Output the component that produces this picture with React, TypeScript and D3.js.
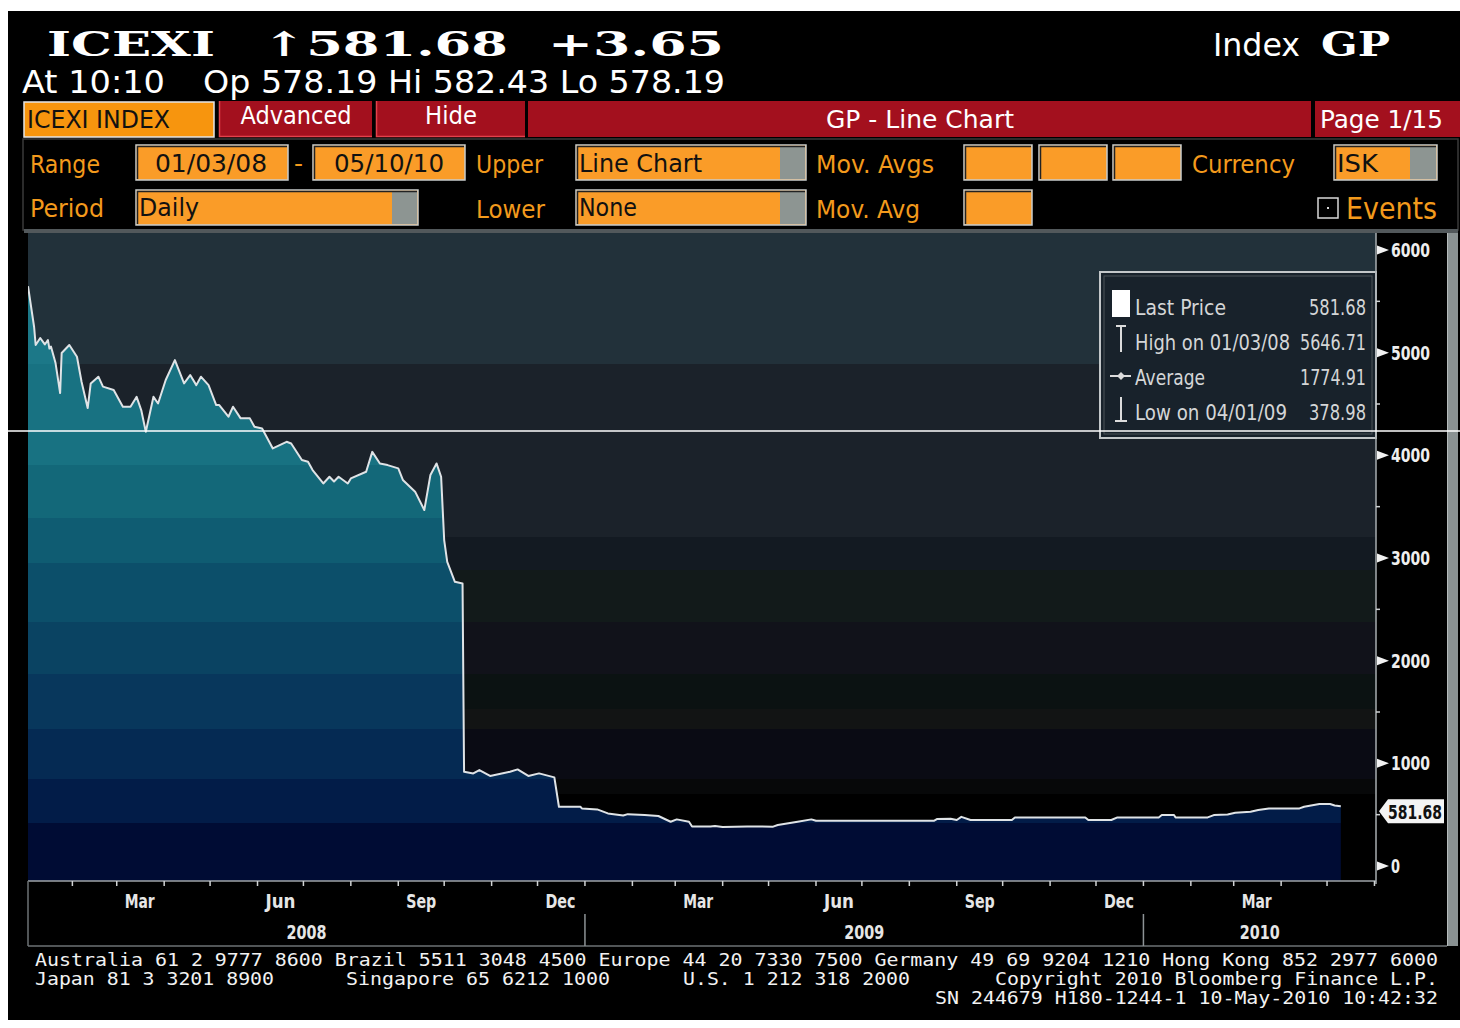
import React from "react";
import * as d3 from "d3";

// ---------- DATA ----------
const DATES: string[] = [
  "2008-01-03","2008-01-07","2008-01-08","2008-01-11","2008-01-14","2008-01-16","2008-01-17","2008-01-18",
  "2008-01-21","2008-01-24","2008-01-25","2008-01-30","2008-02-04","2008-02-07","2008-02-11","2008-02-13",
  "2008-02-18","2008-02-21","2008-02-28","2008-03-05","2008-03-10","2008-03-14","2008-03-17","2008-03-20",
  "2008-03-25","2008-03-28","2008-04-02","2008-04-08","2008-04-14","2008-04-18","2008-04-22","2008-04-25",
  "2008-04-30","2008-05-05","2008-05-07","2008-05-13","2008-05-16","2008-05-21","2008-05-27","2008-05-30",
  "2008-06-04","2008-06-11","2008-06-20","2008-06-23","2008-06-30","2008-07-04","2008-07-07","2008-07-14",
  "2008-07-18","2008-07-21","2008-07-24","2008-07-30","2008-08-01","2008-08-11","2008-08-15","2008-08-20",
  "2008-08-25","2008-09-01","2008-09-04","2008-09-12","2008-09-18","2008-09-22","2008-09-26","2008-09-29",
  "2008-10-01","2008-10-03","2008-10-08","2008-10-13","2008-10-14","2008-10-20","2008-10-24","2008-10-31",
  "2008-11-13","2008-11-18","2008-11-25","2008-12-02","2008-12-12","2008-12-15","2008-12-29","2008-12-30",
  "2009-01-09","2009-01-16","2009-01-26","2009-01-29","2009-02-09","2009-02-18","2009-02-26","2009-03-02",
  "2009-03-10","2009-03-12","2009-03-24","2009-03-27","2009-04-01","2009-04-17","2009-05-04","2009-05-07",
  "2009-05-20","2009-05-29","2009-06-01","2009-08-17","2009-08-19","2009-08-28","2009-09-01","2009-09-04",
  "2009-09-10","2009-10-07","2009-10-09","2009-11-24","2009-11-26","2009-12-11","2009-12-15","2010-01-11",
  "2010-01-13","2010-01-21","2010-01-22","2010-02-12","2010-02-16","2010-02-25","2010-03-02","2010-03-12",
  "2010-03-17","2010-03-24","2010-04-13","2010-04-16","2010-04-26","2010-05-03","2010-05-06","2010-05-10",
];
const VALUES: number[] = [
  5647,5250,5075,5143,5080,5123,5040,5060,
  4899,4607,4997,5075,4960,4717,4461,4700,
  4766,4669,4636,4473,4473,4570,4441,4230,
  4570,4505,4734,4928,4701,4782,4684,4766,
  4684,4490,4490,4376,4473,4360,4360,4278,
  4262,4067,4132,4115,3954,3938,3857,3726,
  3791,3745,3791,3726,3775,3840,4034,3921,
  3905,3873,3760,3646,3467,3808,3921,3791,
  3175,2963,2768,2752,918,902,935,877,
  918,941,877,902,863,577,577,561,
  551,512,492,505,497,487,431,454,
  431,385,385,390,379,385,383,399,
  431,454,440,440,457,460,448,479,
  448,448,473,473,448,448,473,473,
  496,496,473,473,496,502,518,528,
  545,561,561,577,604,604,590,582,
];
const Y_TICKS: number[] = [0, 1000, 2000, 3000, 4000, 5000, 6000];
const MONTH_LABELS: string[] = ["Mar", "Jun", "Sep", "Dec"];
const YEAR_LABELS: string[] = ["2008", "2009", "2010"];
const LEGEND_LABELS: string[] = ["Last Price", "High on 01/03/08", "Average", "Low on 04/01/09"];
const LEGEND_VALUES: string[] = ["581.68", "5646.71", "1774.91", "378.98"];
const LAST_PRICE = 581.68;
const FOOTER_1 = "Australia 61 2 9777 8600 Brazil 5511 3048 4500 Europe 44 20 7330 7500 Germany 49 69 9204 1210 Hong Kong 852 2977 6000";

// ---------- STYLE ----------
const COND = "'DejaVu Sans Condensed', 'Liberation Sans Narrow', 'Roboto Condensed', 'DejaVu Sans', sans-serif";
const MONO = "'DejaVu Sans Mono', 'Liberation Mono', monospace";
const SERIF = "'DejaVu Serif', 'Liberation Serif', serif";
const ORANGE = "#fa9c28";
const AMBER = "#f39a1c";
const RED = "#a3101e";
const PL = 28, PR = 1376, PT = 233, PB = 881;

const BG_BANDS: [number, string][] = [
  [233, "#22313a"], [364, "#1b222a"], [537, "#131a22"], [570, "#121a1a"], [622, "#11121a"],
  [674, "#0b1212"], [709, "#121414"], [729, "#0a0b14"], [779, "#070809"], [794, "#000000"],
];
const FILL_BANDS: [number, string][] = [
  [233, "#1c7888"], [364, "#187282"], [465, "#136879"], [518, "#0f5c72"], [563, "#0c4f6a"],
  [622, "#0a4362"], [674, "#08375c"], [729, "#052a53"], [779, "#021c48"], [823, "#000c34"],
];

function T(p: any) {
  const { x, y, s = 24, c = "#fff", len, anchor = "start", w = "normal", f = COND, children } = p;
  return (
    <text x={x} y={y} fontSize={s} fill={c} fontFamily={f} fontWeight={w} textAnchor={anchor}
      textLength={len} lengthAdjust="spacingAndGlyphs">{children}</text>
  );
}

function OBox({ x, y, w, h, gray }: any) {
  return (
    <g>
      <rect x={x} y={y} width={w} height={h} fill={ORANGE} stroke="#c9cdcd" strokeWidth={1.5} />
      {gray ? <rect x={x + w - gray} y={y + 1} width={gray - 1} height={h - 2} fill="#8d9592" /> : null}
      <path d={`M${x + 1.5},${y + h - 1} V${y + 1.5} H${x + w - 1}`} stroke="#222" strokeWidth={1.5} fill="none" />
    </g>
  );
}

export default function App() {
  const parse = d3.timeParse("%Y-%m-%d");
  const data = DATES.map((d, i) => ({ date: parse(d) as Date, value: VALUES[i] }));

  const x = d3.scaleTime().domain([new Date(2008, 0, 3), new Date(2010, 5, 2)]).range([PL, PR]);
  const y = d3.scaleLinear().domain([0, 6000]).range([866, 250]);

  const line = d3.line<any>().x((d) => x(d.date)).y((d) => y(d.value));
  const area = d3.area<any>().x((d) => x(d.date)).y0(PB).y1((d) => y(d.value));

  const monthStarts = d3.timeMonth.range(new Date(2008, 1, 1), new Date(2010, 5, 2));
  const quarterMids = d3.timeMonth
    .range(new Date(2008, 0, 1), new Date(2010, 5, 1))
    .filter((m) => [2, 5, 8, 11].includes(m.getMonth()))
    .map((m) => ({ d: new Date(m.getFullYear(), m.getMonth(), 16), label: MONTH_LABELS[[2, 5, 8, 11].indexOf(m.getMonth())] }));
  const yearStarts = [new Date(2009, 0, 1), new Date(2010, 0, 1)];
  const yearBounds = [PL, x(yearStarts[0]), x(yearStarts[1]), PR];

  const gradStops = (bands: [number, string][]) => {
    const out: any[] = [];
    bands.forEach(([yy, col], i) => {
      const y0 = (yy - PT) / (PB - PT);
      const y1 = i < bands.length - 1 ? (bands[i + 1][0] - PT) / (PB - PT) : 1;
      out.push(<stop key={i + "a"} offset={y0} stopColor={col} />);
      out.push(<stop key={i + "b"} offset={y1} stopColor={col} />);
    });
    return out;
  };

  const lastY = y(LAST_PRICE);
  const tagC = lastY + 5;

  return (
    <svg width={1460} height={1028} style={{ position: "absolute", left: 0, top: 0, display: "block" }}>
      <defs>
        <linearGradient id="bgGrad" gradientUnits="userSpaceOnUse" x1={0} y1={PT} x2={0} y2={PB}>
          {gradStops(BG_BANDS)}
        </linearGradient>
        <linearGradient id="fillGrad" gradientUnits="userSpaceOnUse" x1={0} y1={PT} x2={0} y2={PB}>
          {gradStops(FILL_BANDS)}
        </linearGradient>
        <clipPath id="plotClip">
          <rect x={PL} y={PT} width={PR - PL} height={PB - PT} />
        </clipPath>
      </defs>
      <rect x={0} y={0} width={1460} height={1028} fill="#fff" />
      <rect x={8} y={11} width={1452} height={1009} fill="#000" />

      {/* Header */}
      <T x={47} y={56} s={34} f={SERIF} w="bold" len={168}>ICEXI</T>
      <T x={262} y={56} s={34} f={SERIF} w="bold" len={246}>↑581.68</T>
      <T x={548} y={56} s={34} f={SERIF} w="bold" len={176}>+3.65</T>
      <T x={22} y={93} s={32} len={143}>At 10:10</T>
      <T x={203} y={93} s={32} len={522}>Op 578.19 Hi 582.43 Lo 578.19</T>
      <T x={1213} y={56} s={32} len={87}>Index</T>
      <T x={1321} y={56} s={34} f={SERIF} w="bold" len={69}>GP</T>

      {/* Row 1 */}
      <rect x={24} y={102} width={190} height={35} fill="#f7950e" stroke="#e6e6e6" strokeWidth={1.5} />
      <T x={27} y={128} s={24} c="#111" len={143}>ICEXI INDEX</T>
      <rect x={219} y={101} width={153} height={36} fill={RED} />
      <path d="M219.5,101 V136.5 H372" stroke="#e3414b" strokeWidth={1.5} fill="none" />
      <T x={296} y={124} s={24} anchor="middle" len={111}>Advanced</T>
      <rect x={376} y={101} width={149} height={36} fill={RED} />
      <path d="M376.5,101 V136.5 H525" stroke="#e3414b" strokeWidth={1.5} fill="none" />
      <T x={451} y={124} s={24} anchor="middle" len={52}>Hide</T>
      <rect x={528} y={101} width={783} height={36} fill={RED} />
      <T x={920} y={128} s={24} anchor="middle" len={188}>GP - Line Chart</T>
      <rect x={1315} y={101} width={145} height={36} fill={RED} />
      <T x={1320} y={128} s={24} len={123}>Page 1/15</T>

      {/* Control panel */}
      <rect x={23} y={139} width={1435} height={91} fill="none" stroke="#3a3a3a" strokeWidth={1.5} />
      <T x={30} y={173} s={24} c={AMBER} len={70}>Range</T>
      <OBox x={136} y={145} w={152} h={35} />
      <T x={155} y={172} s={24} c="#111" len={112}>01/03/08</T>
      <T x={294} y={172} s={24} c={AMBER} len={9}>-</T>
      <OBox x={313} y={145} w={152} h={35} />
      <T x={334} y={172} s={24} c="#111" len={110}>05/10/10</T>
      <T x={476} y={173} s={24} c={AMBER} len={67}>Upper</T>
      <OBox x={576} y={145} w={230} h={35} gray={26} />
      <T x={579} y={172} s={24} c="#111" len={123}>Line Chart</T>
      <T x={816} y={173} s={24} c={AMBER} len={118}>Mov. Avgs</T>
      <OBox x={964} y={145} w={68} h={35} />
      <OBox x={1039} y={145} w={68} h={35} />
      <OBox x={1113} y={145} w={68} h={35} />
      <T x={1192} y={173} s={24} c={AMBER} len={103}>Currency</T>
      <OBox x={1334} y={145} w={103} h={35} gray={27} />
      <T x={1337} y={172} s={24} c="#111" len={41}>ISK</T>

      <T x={30} y={217} s={24} c={AMBER} len={74}>Period</T>
      <OBox x={136} y={190} w={282} h={35} gray={26} />
      <T x={139} y={216} s={24} c="#111" len={60}>Daily</T>
      <T x={476} y={218} s={24} c={AMBER} len={69}>Lower</T>
      <OBox x={576} y={190} w={230} h={35} gray={26} />
      <T x={579} y={216} s={24} c="#111" len={58}>None</T>
      <T x={816} y={218} s={24} c={AMBER} len={104}>Mov. Avg</T>
      <OBox x={964} y={190} w={68} h={35} />
      <rect x={1318} y={198} width={20} height={20} fill="none" stroke="#d8d8d8" strokeWidth={1.5} />
      <rect x={1327} y={207} width={2} height={2} fill="#d8d8d8" />
      <T x={1346} y={219} s={30} c={AMBER} len={91}>Events</T>

      {/* Plot */}
      <rect x={24} y={229} width={1434} height={4} fill="#52585b" />
      <g clipPath="url(#plotClip)">
        <rect x={PL} y={PT} width={PR - PL} height={PB - PT} fill="url(#bgGrad)" />
        <path d={area(data) || ""} fill="url(#fillGrad)" />
        <path d={line(data) || ""} fill="none" stroke="#dfe3e6" strokeWidth={2} strokeLinejoin="round" />
      </g>

      {/* Legend */}
      <rect x={1100} y={272} width={276} height={166} fill="#18222b" stroke="#c3c7c9" strokeWidth={2} />
      <rect x={1104} y={276} width={268} height={158} fill="none" stroke="#4a5258" strokeWidth={1} />
      <rect x={1112} y={290} width={18} height={27} fill="#fff" />
      <path d="M1121,326 V352 M1116,326 H1126" stroke="#dcdcdc" strokeWidth={2} fill="none" />
      <path d="M1110,376 H1131" stroke="#dcdcdc" strokeWidth={2} fill="none" />
      <path d="M1121,372 L1125,376 L1121,380 L1117,376 Z" fill="#dcdcdc" />
      <path d="M1121,397 V421 M1115,421 H1127" stroke="#dcdcdc" strokeWidth={2} fill="none" />
      {LEGEND_LABELS.map((l, i) => (
        <T key={l} x={1135} y={315 + i * 35} s={22} c="#d4d6d7" len={[91, 155, 70, 152][i]}>{l}</T>
      ))}
      {LEGEND_VALUES.map((v, i) => (
        <T key={v} x={1366} y={315 + i * 35} s={22} c="#d4d6d7" anchor="end" len={v.length > 6 ? 66 : 57}>{v}</T>
      ))}

      {/* Right axis */}
      <line x1={PR} x2={PR} y1={PT} y2={PB + 3} stroke="#a9aeb0" strokeWidth={1.5} />
      {Y_TICKS.slice(0, -1).map((t) => (
        <line key={"m" + t} x1={PR} x2={PR + 4} y1={y(t + 500)} y2={y(t + 500)} stroke="#cfd2d3" strokeWidth={1.5} />
      ))}
      {Y_TICKS.map((t) => (
        <g key={t}>
          <path d={`M${PR + 1},${y(t) - 4.5} L${PR + 13},${y(t)} L${PR + 1},${y(t) + 4.5} Z`} fill="#f2f2f2" />
          <T x={PR + 15} y={y(t) + 7} s={20} w="bold" c="#eeeeee" len={t === 0 ? 9 : 39}>{String(t)}</T>
        </g>
      ))}
      <path d={`M${PR + 3},${tagC} L${PR + 12},${tagC - 12} L${1444},${tagC - 12} L${1444},${tagC + 12} L${PR + 12},${tagC + 12} Z`} fill="#f4f4f4" />
      <T x={PR + 12} y={tagC + 8} s={20} w="bold" c="#111" len={54}>{LAST_PRICE.toFixed(2)}</T>

      {/* Scrollbar */}
      <rect x={1447} y={233} width={11} height={713} fill="#8a9293" />
      <line x1={1447.5} x2={1447.5} y1={233} y2={946} stroke="#b5bbbb" strokeWidth={1} />

      {/* Bottom axis */}
      <line x1={PL} x2={PR} y1={PB} y2={PB} stroke="#9fa5a8" strokeWidth={1.5} />
      <line x1={PL} x2={PL} y1={PB} y2={946} stroke="#6d7275" strokeWidth={1.5} />
      <line x1={PL} x2={1447} y1={946} y2={946} stroke="#6d7275" strokeWidth={1.5} />
      {monthStarts.map((m) => (
        <line key={m.toISOString()} x1={x(m)} x2={x(m)} y1={PB} y2={PB + 5} stroke="#d0d3d4" strokeWidth={1.5} />
      ))}
      {quarterMids.map((q) => (
        <T key={q.d.toISOString()} x={x(q.d)} y={908} s={20} w="bold" c="#e6e6e6" anchor="middle" len={30}>{q.label}</T>
      ))}
      {yearStarts.map((d) => (
        <line key={d.toISOString()} x1={x(d)} x2={x(d)} y1={914} y2={946} stroke="#8d9396" strokeWidth={1.5} />
      ))}
      {YEAR_LABELS.map((yl, i) => (
        <T key={yl} x={(yearBounds[i] + yearBounds[i + 1]) / 2} y={939} s={20} w="bold" c="#e6e6e6" anchor="middle" len={40}>{yl}</T>
      ))}

      {/* Footer */}
      <T x={35} y={966} s={17} f={MONO} c="#f2f2f2" len={1403}>{FOOTER_1}</T>
      <T x={35} y={985} s={17} f={MONO} c="#f2f2f2" len={239}>Japan 81 3 3201 8900</T>
      <T x={346} y={985} s={17} f={MONO} c="#f2f2f2" len={264}>Singapore 65 6212 1000</T>
      <T x={683} y={985} s={17} f={MONO} c="#f2f2f2" len={227}>U.S. 1 212 318 2000</T>
      <T x={995} y={985} s={17} f={MONO} c="#f2f2f2" len={443}>Copyright 2010 Bloomberg Finance L.P.</T>
      <T x={935} y={1004} s={17} f={MONO} c="#f2f2f2" len={503}>SN 244679 H180-1244-1 10-May-2010 10:42:32</T>

      {/* scan line artifact */}
      <line x1={0} x2={1460} y1={431} y2={431} stroke="#ffffff" strokeWidth={1.5} />
    </svg>
  );
}
